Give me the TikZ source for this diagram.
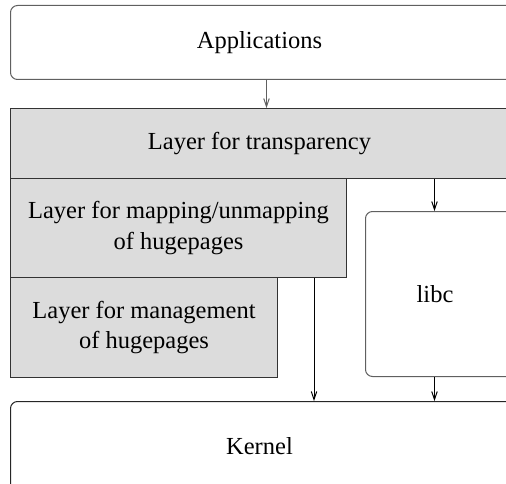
\documentclass[tikz,border=0pt]{standalone}
\usepackage{fontspec}
\setmainfont{Liberation Serif}
\usetikzlibrary{arrows.meta}
\definecolor{layergray}{HTML}{DCDCDC}
\definecolor{edgegray}{HTML}{606060}
\newcommand{\myshifttext}[2]{\hspace*{#1}#2}
\tikzset{
  base/.style={draw, line width=1pt, inner sep=0pt, anchor=north west, align=center,
    font=\fontsize{24.5}{30.6}\selectfont},
  roundbox/.style={base, rounded corners=7pt},
  layer/.style={base, fill=layergray, draw=black!80},
  conn/.style={line width=1pt, -{Straight Barb[length=8pt,width=5.5pt]}},
}
\begin{document}
\begin{tikzpicture}[x=1pt, y=-1pt]
\useasboundingbox (0,0) rectangle (506,484);
\clip (0,0) rectangle (506,484);
\node[roundbox, draw=edgegray, minimum width=510pt, minimum height=74pt] (apps) at (10,5) {\myshifttext{-12pt}{Applications}};
\node[layer, minimum width=510pt, minimum height=70pt] (trans) at (10,108) {\myshifttext{-12pt}{Layer for transparency}};
\node[layer, minimum width=336pt, minimum height=99pt] (map) at (10,178) {Layer for mapping/unmapping\\of hugepages};
\node[layer, minimum width=267pt, minimum height=100pt] (mgmt) at (10,277) {Layer for management\\of hugepages};
\node[roundbox, draw=edgegray, minimum width=150pt, minimum height=165pt] (libc) at (365,211) {\myshifttext{-11pt}{libc}};
\node[roundbox, draw=black!85, minimum width=510pt, minimum height=90pt] (kern) at (10,401) {\myshifttext{-12pt}{Kernel}};
\draw[conn, draw=edgegray] ([xshift=1pt]apps.south) -- ([xshift=1pt]apps.south |- trans.north);
\coordinate (tl) at ([xshift=-6pt]libc.north |- trans.south);
\draw[conn] (tl) -- (tl |- libc.north);
\coordinate (mk) at ([xshift=-33pt]map.south east);
\draw[conn] (mk) -- (mk |- kern.north);
\coordinate (lk) at ([xshift=-6pt]libc.south);
\draw[conn] (lk) -- (lk |- kern.north);
\end{tikzpicture}
\end{document}
